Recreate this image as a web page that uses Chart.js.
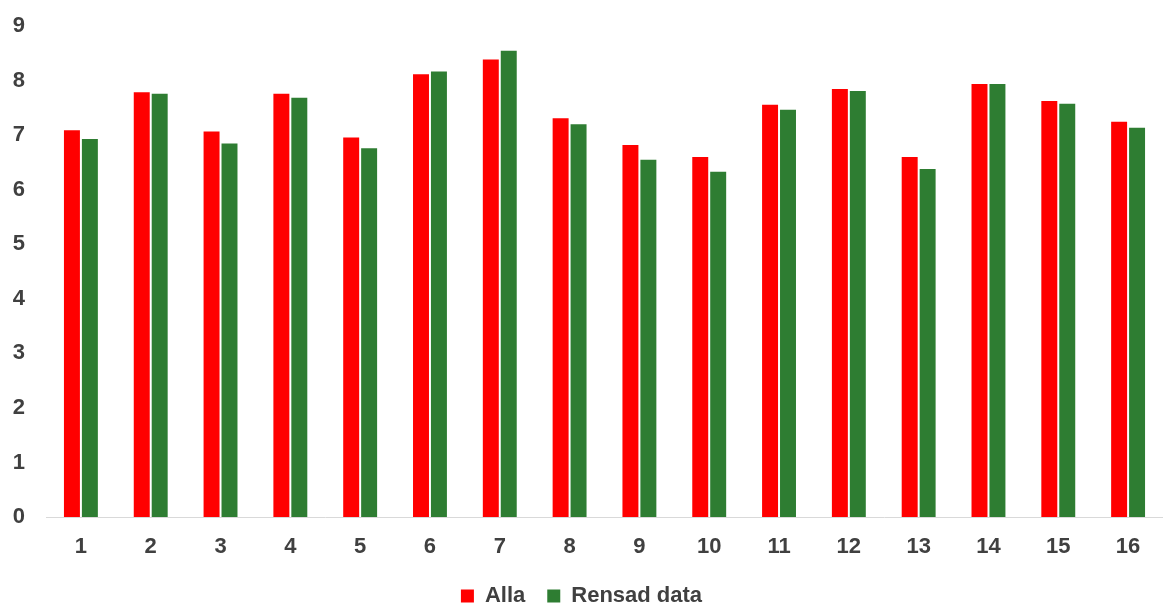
<!DOCTYPE html>
<html>
<head>
<meta charset="utf-8">
<script src="https://cdn.jsdelivr.net/npm/chart.js@4"></script>
<style>
  html, body { margin: 0; padding: 0; background: #fff; }
  #wrap { width: 1163px; height: 605px; }
</style>
</head>
<body>
<div id="wrap"><canvas id="barChart"></canvas></div>
<script>
const labels = ['1','2','3','4','5','6','7','8','9','10','11','12','13','14','15','16'];
const alla = [7.09,7.79,7.07,7.76,6.96,8.12,8.39,7.31,6.82,6.60,7.56,7.85,6.60,7.94,7.63,7.25];
const rensad = [6.93,7.76,6.85,7.69,6.76,8.17,8.55,7.20,6.55,6.33,7.47,7.81,6.38,7.94,7.58,7.14];
const yTicks = [0,1,2,3,4,5,6,7,8,9];

const txt = '#404040';
const font = { family: '"Liberation Sans", Arial, sans-serif', size: 22, weight: 'bold' };

const barChart = new Chart(document.getElementById('barChart'), {
  type: 'bar',
  data: {
    labels: labels,
    datasets: [
      { label: 'Alla', data: alla, backgroundColor: '#ff0000',
        categoryPercentage: 0.514, barPercentage: 0.89 },
      { label: 'Rensad data', data: rensad, backgroundColor: '#2e7d32',
        categoryPercentage: 0.514, barPercentage: 0.89 }
    ]
  },
  options: {
    responsive: true,
    maintainAspectRatio: false,
    animation: false,
    layout: { padding: { top: 6, right: 0, left: 0, bottom: -12 } },
    plugins: {
      legend: {
        position: 'bottom',
        labels: { color: txt, font: font, boxWidth: 13, boxHeight: 13, padding: 22 }
      },
      tooltip: { enabled: false }
    },
    scales: {
      x: {
        grid: { display: false },
        border: { color: '#d9d9d9', width: 1 },
        ticks: { color: txt, font: font, padding: 9 },
        afterFit: s => { s.height = 46; }
      },
      y: {
        min: 0, max: 9,
        afterBuildTicks: s => { s.ticks = yTicks.map(v => ({ value: v })); },
        afterFit: s => { s.width = 46; },
        grid: { display: false },
        border: { display: false },
        ticks: { color: txt, font: font, padding: 13 }
      }
    }
  }
});
</script>
</body>
</html>
